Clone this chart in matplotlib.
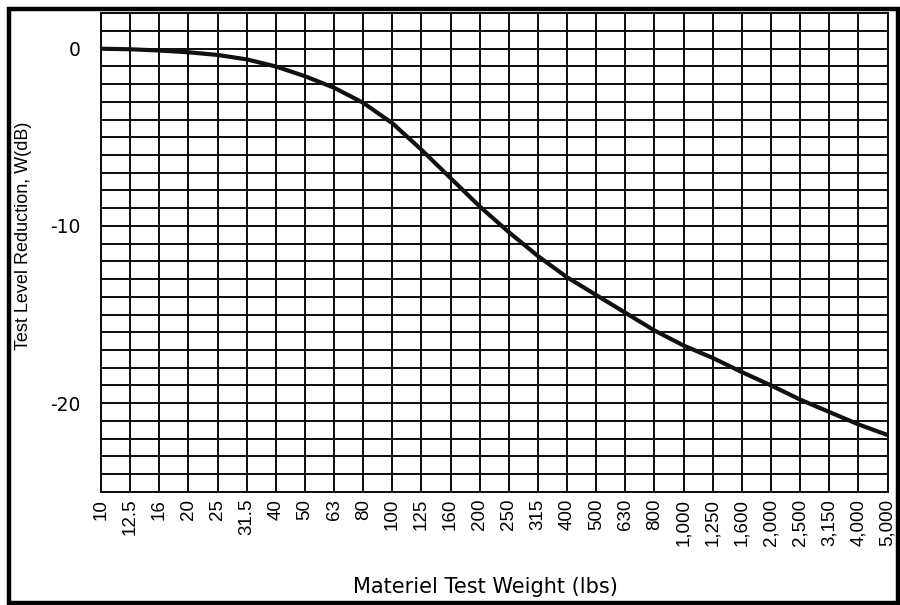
import matplotlib
matplotlib.use("Agg")
import matplotlib.pyplot as plt
from matplotlib.patches import Rectangle

# materiel weight categories (lbs), equally spaced on the chart
weight_labels = ["10", "12.5", "16", "20", "25", "31.5", "40", "50", "63", "80",
                 "100", "125", "160", "200", "250", "315", "400", "500", "630",
                 "800", "1,000", "1,250", "1,600", "2,000", "2,500", "3,150",
                 "4,000", "5,000"]
# test level reduction W (dB) at each weight
reduction_db = [0.0, -0.03, -0.1, -0.2, -0.35, -0.6, -1.0, -1.55, -2.2, -3.05,
                -4.2, -5.7, -7.3, -8.9, -10.35, -11.7, -12.9, -13.9, -14.9,
                -15.9, -16.75, -17.45, -18.25, -19.0, -19.8, -20.5, -21.2, -21.8]
y_major = [-20, -10, 0]
y_minor = list(range(-25, 3))

W, H = 900, 605
fig = plt.figure(figsize=(W / 100, H / 100), dpi=100)
ax = fig.add_axes([101 / W, 1 - 491.7 / H, (887.5 - 101) / W, (491.7 - 13.3) / H])

xpos = list(range(len(weight_labels)))
ax.plot(xpos, reduction_db, color="#141010", lw=3.0, solid_capstyle="butt",
        zorder=3)

ax.set_xlim(0, len(weight_labels) - 1)
ax.set_ylim(-25, 2)
ax.set_xticks(xpos)
ax.set_xticklabels(weight_labels, rotation=90, fontsize=13.5,
                   family="Liberation Sans", va="top")
ax.set_yticks(y_major)
ax.set_yticklabels([str(v) for v in y_major], fontsize=13.5,
                   family="DejaVu Sans")
ax.set_yticks(y_minor, minor=True)
ax.tick_params(axis="both", which="both", length=0)
ax.tick_params(axis="x", pad=5)
ax.tick_params(axis="y", pad=15)

ax.grid(True, which="both", color="#0c0c0c", lw=1.4)
ax.set_axisbelow(True)
for s in ax.spines.values():
    s.set_color("#0c0c0c")
    s.set_linewidth(1.4)

fig.text(24 / W, 1 - 236 / H, "Test Level Reduction, W(dB)", rotation=90,
         ha="center", va="center", fontsize=13, family="Liberation Sans")
fig.text(485 / W, 1 - 587 / H, "Materiel Test Weight (lbs)",
         ha="center", va="center", fontsize=15, family="DejaVu Sans")

# outer frame
fig.patches.append(Rectangle((8.5 / W, 1 - 602.5 / H), (897.5 - 8.5) / W,
                             (602.5 - 9) / H, transform=fig.transFigure,
                             fill=False, ec="black", lw=3.2))

fig.savefig("out.png", dpi=100)
